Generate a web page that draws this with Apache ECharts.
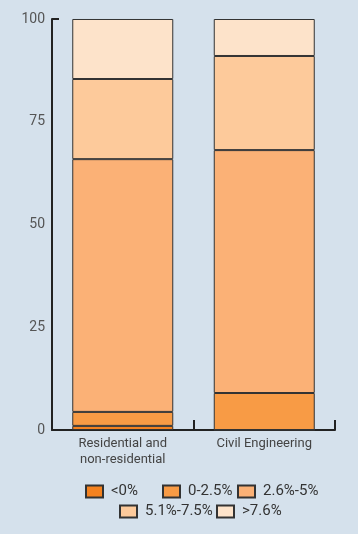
<!DOCTYPE html>
<html><head><meta charset="utf-8">
<script src="https://cdn.jsdelivr.net/npm/echarts@6/dist/echarts.min.js"></script>
<style>html,body{margin:0;padding:0;background:#d5e1ec;}#c{width:358px;height:534px;}</style>
</head><body><div id="c"></div>
<script>
const categories = ['Residential and\nnon-residential', 'Civil Engineering'];
const seriesNames = ['<0%', '0-2.5%', '2.6%-5%', '5.1%-7.5%', '>7.6%'];
const valsNeg = [1.0, 0];
const vals0_25 = [3.4, 9.0];
const vals26_5 = [61.5, 59.1];
const vals51_75 = [19.5, 22.9];
const vals76 = [14.6, 9.0];
const yTicks = [0, 25, 50, 75, 100];
const colors = ['#f5821f', '#f89b45', '#fbb176', '#fdca9b', '#fde3ca'];
const allVals = [valsNeg, vals0_25, vals26_5, vals51_75, vals76];

const chart = echarts.init(document.getElementById('c'), null, {renderer: 'canvas'});
const legendPos = [
  {left: 85, top: 484}, {left: 162, top: 484}, {left: 237, top: 484},
  {left: 119, top: 504}, {left: 216, top: 504}
];
chart.setOption({
  backgroundColor: '#d5e1ec',
  animation: false,
  grid: {left: 52, right: 23, top: 19, bottom: 104},
  legend: seriesNames.map((n, i) => ({
    data: [n], left: legendPos[i].left, top: legendPos[i].top, padding: 0,
    itemWidth: 17, itemHeight: 12, itemGap: 6,
    textStyle: {fontFamily: 'Roboto', fontSize: 15, color: '#333', padding: [0, 0, 0, 3]},
    icon: 'rect'
  })),
  xAxis: {
    type: 'category', data: categories,
    axisLine: {lineStyle: {color: '#222', width: 2}},
    axisTick: {show: true, inside: true, length: 10, lineStyle: {color: '#222', width: 2}},
    axisLabel: {fontFamily: 'Roboto', fontSize: 13, color: '#444', margin: 6, lineHeight: 16}
  },
  yAxis: [{
    type: 'value', min: 0, max: 100, interval: 25,
    axisLine: {show: true, lineStyle: {color: '#222', width: 2}},
    axisTick: {show: false},
    splitLine: {show: false},
    axisLabel: {fontFamily: 'Roboto', fontSize: 14, color: '#555', margin: 7,
      formatter: v => yTicks.includes(v) ? String(v) : ''}
  }, {
    type: 'value', min: 0, max: 100, interval: 100, position: 'left',
    axisLine: {show: false},
    axisTick: {show: true, inside: true, length: 7, lineStyle: {color: '#222', width: 2}},
    splitLine: {show: false},
    axisLabel: {show: false}
  }],
  series: seriesNames.map((n, i) => ({
    name: n, type: 'bar', stack: 'a', data: allVals[i], barWidth: 101,
    itemStyle: {color: colors[i], borderColor: '#333', borderWidth: 1}
  }))
});
</script></body></html>
